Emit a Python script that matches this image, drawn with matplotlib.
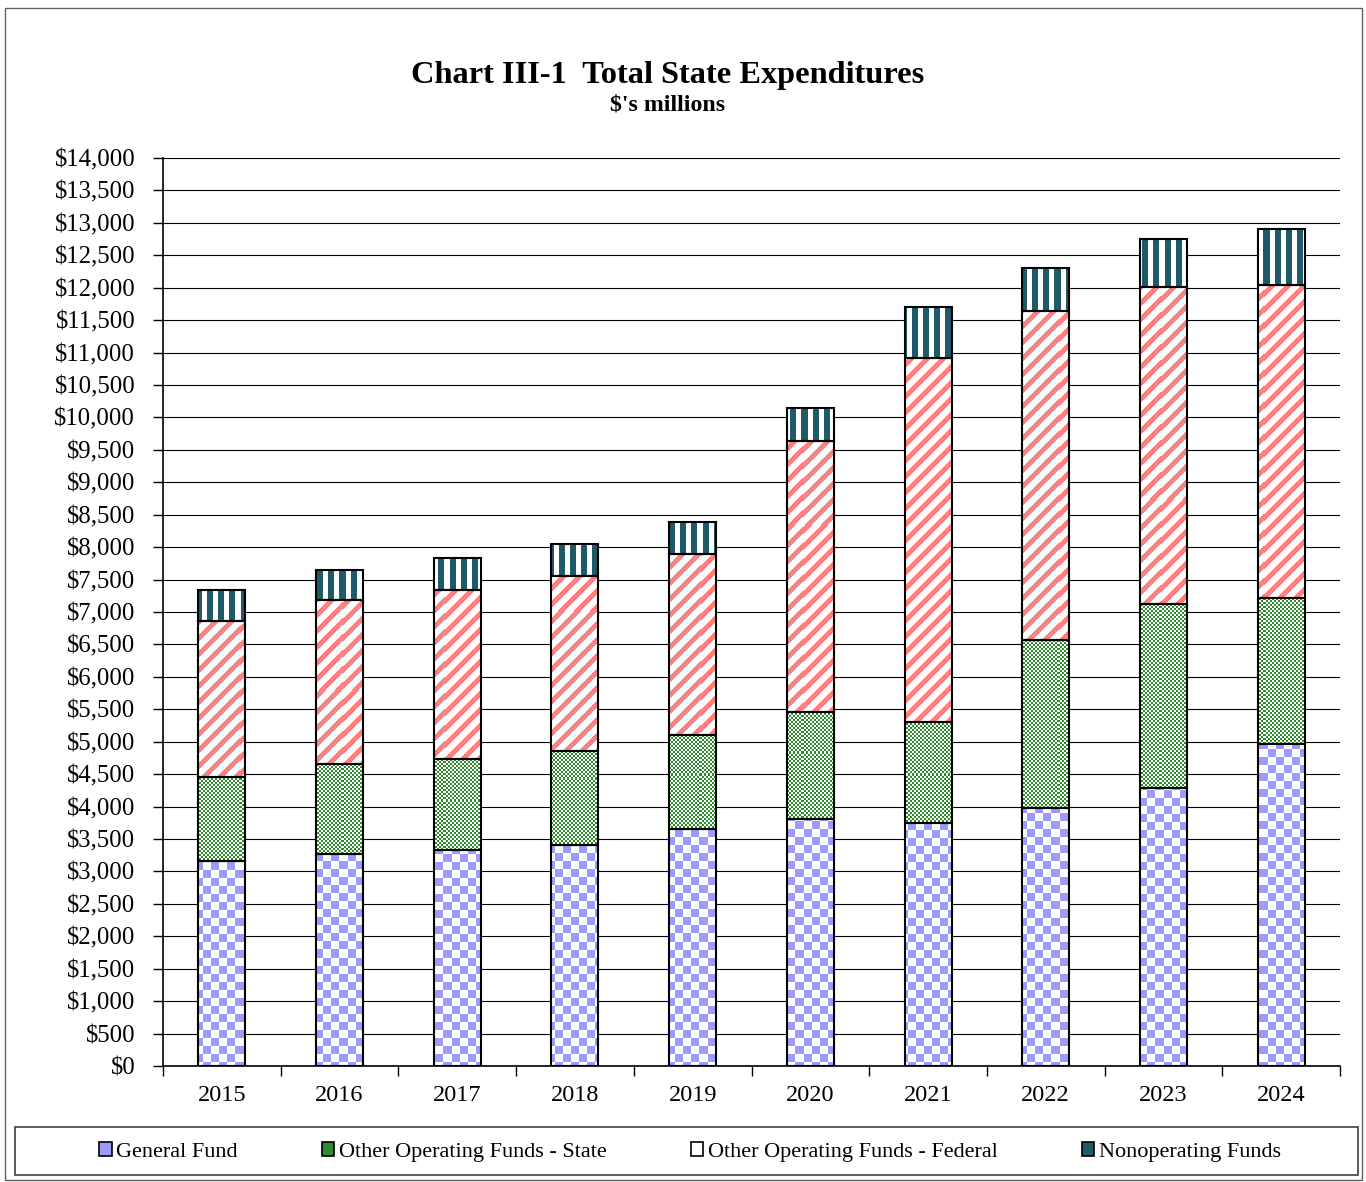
import numpy as np
import matplotlib
matplotlib.use("Agg")
import matplotlib.pyplot as plt
from matplotlib.patches import Rectangle, Patch

# Data ($ millions)
years = ["2015", "2016", "2017", "2018", "2019", "2020", "2021", "2022", "2023", "2024"]
general_fund = [3160, 3270, 3330, 3410, 3655, 3810, 3745, 3980, 4285, 4965]
other_state = [1295, 1385, 1405, 1450, 1450, 1650, 1560, 2590, 2835, 2250]
other_federal = [2405, 2530, 2605, 2700, 2790, 4180, 5610, 5070, 4890, 4825]
nonoperating = [480, 460, 495, 495, 495, 510, 785, 665, 740, 865]
series_names = ["General Fund", "Other Operating Funds - State",
                "Other Operating Funds - Federal", "Nonoperating Funds"]

plt.rcParams['font.family'] = ['Liberation Serif', 'DejaVu Serif']

W, H, dpi = 1366, 1182, 100
fig = plt.figure(figsize=(W / dpi, H / dpi), dpi=dpi)
left, right, bottom, top = 163 / W, 1340 / W, 1 - 1066 / H, 1 - 158 / H
ax = fig.add_axes([left, bottom, right - left, top - bottom])

# pixel patterns filling the axes, clipped to each bar later
aw, ah = int(round((right - left) * W)), int(round((top - bottom) * H))
rows, cols = np.mgrid[0:ah, 0:aw]


def pattern(mask, color):
    rgb = np.array(matplotlib.colors.to_rgb(color))
    img = np.ones((ah, aw, 3))
    img[mask] = rgb
    return img


pat_gf = pattern(((rows // 8 + cols // 8) % 2) == 0, "#9C9CFF")
pat_st = pattern(((rows // 2 + cols // 2) % 2) == 0, "#2E8B2E")
pat_fed = pattern(((cols + rows) % 16) < 7, "#FF8080")
pat_non = pattern((cols % 11) < 6, "#1F5A68")

x = np.arange(len(years))
xlim = (-0.5, len(years) - 0.5)
ylim = (0, 14000)

base = np.zeros(len(years))
for vals, pat in zip([general_fund, other_state, other_federal, nonoperating],
                     [pat_gf, pat_st, pat_fed, pat_non]):
    bars = ax.bar(x, vals, 0.4, bottom=base, facecolor="none",
                  edgecolor="black", linewidth=1.5, zorder=4)
    for b in bars:
        im = ax.imshow(pat, extent=(*xlim, *ylim), origin="upper",
                       interpolation="nearest", aspect="auto", zorder=3)
        im.set_clip_path(b)
    base = base + np.array(vals)

ax.set_xlim(*xlim)
ax.set_ylim(*ylim)
ax.set_axisbelow(True)

ax.set_yticks(np.arange(0, 14001, 500))
ax.set_yticklabels(["${:,.0f}".format(v) for v in np.arange(0, 14001, 500)],
                   fontsize=17.8)
ax.yaxis.grid(True, color="black", linewidth=0.8)
ax.tick_params(axis="y", length=7, width=1, pad=13)

ax.set_xticks(x)
ax.set_xticklabels(years, fontsize=17.5)
ax.set_xticks(np.arange(-0.5, len(years)), minor=True)
ax.tick_params(axis="x", which="major", length=0, pad=14)
ax.tick_params(axis="x", which="minor", length=7, width=1)

for s in ["top", "right"]:
    ax.spines[s].set_visible(False)
for s in ["left", "bottom"]:
    ax.spines[s].set_linewidth(1.2)

fig.text(668 / W, 1 - 75 / H, "Chart III-1  Total State Expenditures",
         ha="center", va="center", fontsize=23.3, fontweight="bold")
fig.text(668 / W, 1 - 105 / H, "$'s millions",
         ha="center", va="center", fontsize=17.2, fontweight="bold")

handles = [Patch(facecolor="#9C9CFF", edgecolor="black", linewidth=1.2),
           Patch(facecolor="#2E8B2E", edgecolor="black", linewidth=1.2),
           Patch(facecolor="white", edgecolor="black", linewidth=1.2),
           Patch(facecolor="#1F5A68", edgecolor="black", linewidth=1.2)]
fig.legend(handles, series_names, loc="center", bbox_to_anchor=(690 / W, 1 - 1152 / H),
           ncol=4, frameon=False, fontsize=16, handlelength=0.55, handleheight=0.55,
           handletextpad=0.2, columnspacing=3.8)

fig.patches.append(Rectangle((15 / W, 1 - 1175 / H), 1343 / W, 48 / H,
                             transform=fig.transFigure, fill=False,
                             edgecolor="#404040", linewidth=1.2))
fig.patches.append(Rectangle((5 / W, 1 - 1180 / H), 1357 / W, 1172 / H,
                             transform=fig.transFigure, fill=False,
                             edgecolor="#606060", linewidth=1))

fig.savefig("out.png", dpi=dpi)
